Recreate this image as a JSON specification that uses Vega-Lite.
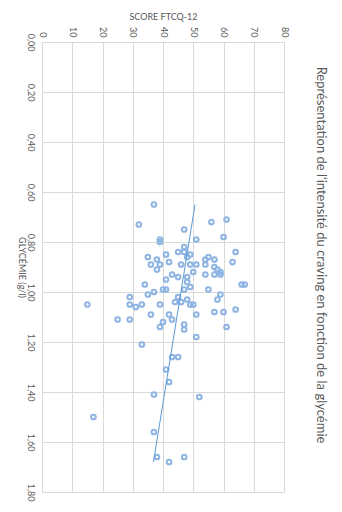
{
  "$schema": "https://vega.github.io/schema/vega-lite/v6.json",
  "width": 242,
  "height": 450,
  "autosize": {"type": "none"},
  "padding": {"left": 42, "top": 42, "right": 58, "bottom": 20},
  "background": "white",
  "title": {
    "text": "Représentation de l'intensité du craving en fonction de la glycémie",
    "orient": "right",
    "anchor": "middle",
    "angle": 90,
    "offset": 26,
    "dx": -12,
    "font": "Lato",
    "fontSize": 13,
    "fontWeight": "normal",
    "color": "#595959"
  },
  "config": {
    "view": {"stroke": null},
    "font": "Lato",
    "axis": {
      "labelFont": "Lato",
      "titleFont": "Lato",
      "labelColor": "#595959",
      "titleColor": "#595959",
      "labelFontSize": 9,
      "titleFontSize": 9,
      "titleFontWeight": "normal",
      "gridColor": "#d9d9d9",
      "gridWidth": 1,
      "domain": false,
      "ticks": false
    }
  },
  "data": {
    "values": [
      {"score": 37, "glyc": 0.65}, {"score": 32, "glyc": 0.73}, {"score": 56, "glyc": 0.72},
      {"score": 61, "glyc": 0.71}, {"score": 47, "glyc": 0.75}, {"score": 39, "glyc": 0.79},
      {"score": 39, "glyc": 0.80}, {"score": 51, "glyc": 0.79}, {"score": 60, "glyc": 0.78},
      {"score": 47, "glyc": 0.82}, {"score": 45, "glyc": 0.84}, {"score": 47, "glyc": 0.84},
      {"score": 49, "glyc": 0.85}, {"score": 48, "glyc": 0.86}, {"score": 35, "glyc": 0.86},
      {"score": 38, "glyc": 0.87}, {"score": 41, "glyc": 0.85}, {"score": 42, "glyc": 0.88},
      {"score": 36, "glyc": 0.89}, {"score": 39, "glyc": 0.89}, {"score": 38, "glyc": 0.91},
      {"score": 46, "glyc": 0.89}, {"score": 49, "glyc": 0.89}, {"score": 51, "glyc": 0.89},
      {"score": 54, "glyc": 0.87}, {"score": 55, "glyc": 0.86}, {"score": 57, "glyc": 0.87},
      {"score": 54, "glyc": 0.89}, {"score": 57, "glyc": 0.90}, {"score": 58, "glyc": 0.91},
      {"score": 59, "glyc": 0.92}, {"score": 59, "glyc": 0.93}, {"score": 57, "glyc": 0.93},
      {"score": 54, "glyc": 0.93}, {"score": 64, "glyc": 0.84}, {"score": 63, "glyc": 0.88},
      {"score": 50, "glyc": 0.92}, {"score": 43, "glyc": 0.93}, {"score": 41, "glyc": 0.95},
      {"score": 45, "glyc": 0.94}, {"score": 48, "glyc": 0.94}, {"score": 48, "glyc": 0.96},
      {"score": 49, "glyc": 0.98}, {"score": 47, "glyc": 0.99}, {"score": 34, "glyc": 0.97},
      {"score": 40, "glyc": 0.99}, {"score": 41, "glyc": 0.99}, {"score": 37, "glyc": 1.00},
      {"score": 35, "glyc": 1.01}, {"score": 55, "glyc": 0.99}, {"score": 66, "glyc": 0.97},
      {"score": 67, "glyc": 0.97}, {"score": 59, "glyc": 1.01}, {"score": 58, "glyc": 1.03},
      {"score": 29, "glyc": 1.02}, {"score": 15, "glyc": 1.05}, {"score": 29, "glyc": 1.05},
      {"score": 31, "glyc": 1.06}, {"score": 33, "glyc": 1.05}, {"score": 39, "glyc": 1.05},
      {"score": 45, "glyc": 1.02}, {"score": 44, "glyc": 1.04}, {"score": 46, "glyc": 1.04},
      {"score": 48, "glyc": 1.03}, {"score": 49, "glyc": 1.05}, {"score": 50, "glyc": 1.05},
      {"score": 64, "glyc": 1.07}, {"score": 57, "glyc": 1.08}, {"score": 60, "glyc": 1.08},
      {"score": 51, "glyc": 1.09}, {"score": 42, "glyc": 1.09}, {"score": 36, "glyc": 1.09},
      {"score": 25, "glyc": 1.11}, {"score": 29, "glyc": 1.11}, {"score": 43, "glyc": 1.11},
      {"score": 40, "glyc": 1.12}, {"score": 39, "glyc": 1.14}, {"score": 47, "glyc": 1.13},
      {"score": 47, "glyc": 1.15}, {"score": 61, "glyc": 1.14}, {"score": 51, "glyc": 1.18},
      {"score": 33, "glyc": 1.21}, {"score": 43, "glyc": 1.26}, {"score": 45, "glyc": 1.26},
      {"score": 41, "glyc": 1.31}, {"score": 42, "glyc": 1.36}, {"score": 37, "glyc": 1.41},
      {"score": 52, "glyc": 1.42}, {"score": 17, "glyc": 1.50}, {"score": 37, "glyc": 1.56},
      {"score": 38, "glyc": 1.66}, {"score": 42, "glyc": 1.68}, {"score": 47, "glyc": 1.66}
    ]
  },
  "encoding": {
    "x": {
      "field": "score",
      "type": "quantitative",
      "scale": {"domain": [0, 80], "nice": false, "zero": false},
      "axis": {
        "orient": "top",
        "title": "SCORE FTCQ-12",
        "values": [0, 10, 20, 30, 40, 50, 60, 70, 80],
        "labelAngle": 90,
        "labelAlign": "right",
        "labelBaseline": "middle",
        "labelPadding": 5,
        "titlePadding": 5,
        "labelFlush": false
      }
    },
    "y": {
      "field": "glyc",
      "type": "quantitative",
      "scale": {"domain": [0, 1.8], "nice": false, "zero": false, "reverse": true},
      "axis": {
        "title": "GLYCÉMIE (g/l)",
        "values": [0, 0.2, 0.4, 0.6, 0.8, 1.0, 1.2, 1.4, 1.6, 1.8],
        "labelExpr": "replace(format(datum.value, '.2f'), '.', ',')",
        "labelAngle": 90,
        "labelAlign": "center",
        "labelBaseline": "top",
        "labelPadding": 8,
        "titleAngle": 90,
        "titleX": -21,
        "titleY": 225,
        "titleAlign": "center",
        "titleBaseline": "middle",
        "labelFlush": false
      }
    }
  },
  "layer": [
    {
      "mark": {"type": "point", "shape": "circle", "filled": false, "stroke": "#8eb4e3", "strokeWidth": 2, "size": 22, "opacity": 1}
    },
    {
      "transform": [{"regression": "score", "on": "glyc"}],
      "mark": {"type": "line", "color": "#5b9bd5", "strokeWidth": 1},
      "encoding": {
        "x": {"field": "score", "type": "quantitative"},
        "y": {"field": "glyc", "type": "quantitative"}
      }
    }
  ]
}
